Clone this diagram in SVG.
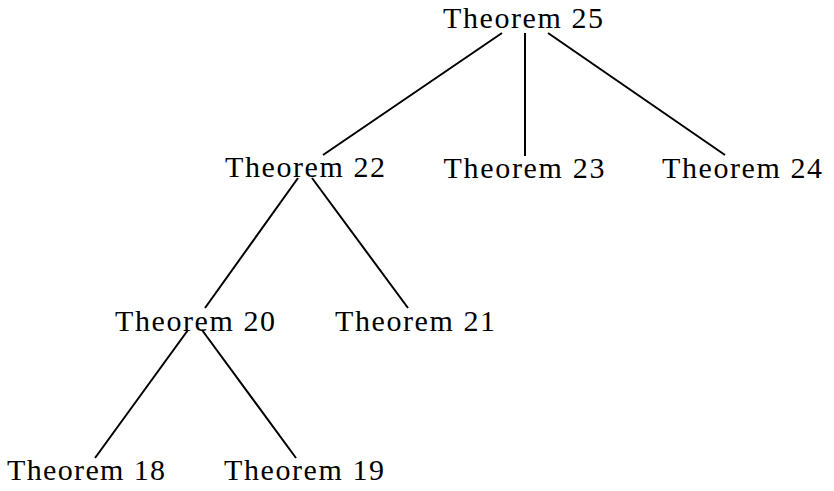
<svg xmlns="http://www.w3.org/2000/svg" width="834" height="491" viewBox="0 0 834 491">
<style>
text{font-family:"Liberation Serif","DejaVu Serif",serif;font-size:30px;fill:#000;text-anchor:middle}
.e line{stroke:#000;stroke-width:2;stroke-linecap:butt}
</style>
<rect width="834" height="491" fill="#fff"/>
<g class="e" id="connectors">
<line x1="502" y1="33" x2="323" y2="155"/>
<line x1="525" y1="33" x2="525" y2="156"/>
<line x1="548" y1="33" x2="725" y2="155"/>
<line x1="298" y1="178" x2="205" y2="308"/>
<line x1="312" y1="178" x2="408" y2="308"/>
<line x1="188" y1="330" x2="95" y2="458"/>
<line x1="202" y1="330" x2="296" y2="458"/>
</g>
<g id="n25"><text x="523" y="28" textLength="160" lengthAdjust="spacing">Theorem 25</text></g>
<g id="n22"><text x="305" y="177" textLength="160" lengthAdjust="spacing">Theorem 22</text></g>
<g id="n23"><text x="524" y="178" textLength="161" lengthAdjust="spacing">Theorem 23</text></g>
<g id="n24"><text x="742" y="178" textLength="160" lengthAdjust="spacing">Theorem 24</text></g>
<g id="n20"><text x="195" y="331" textLength="160" lengthAdjust="spacing">Theorem 20</text></g>
<g id="n21"><text x="415" y="331" textLength="160" lengthAdjust="spacing">Theorem 21</text></g>
<g id="n18"><text x="86" y="480" textLength="158" lengthAdjust="spacing">Theorem 18</text></g>
<g id="n19"><text x="304" y="480" textLength="160" lengthAdjust="spacing">Theorem 19</text></g>
</svg>
